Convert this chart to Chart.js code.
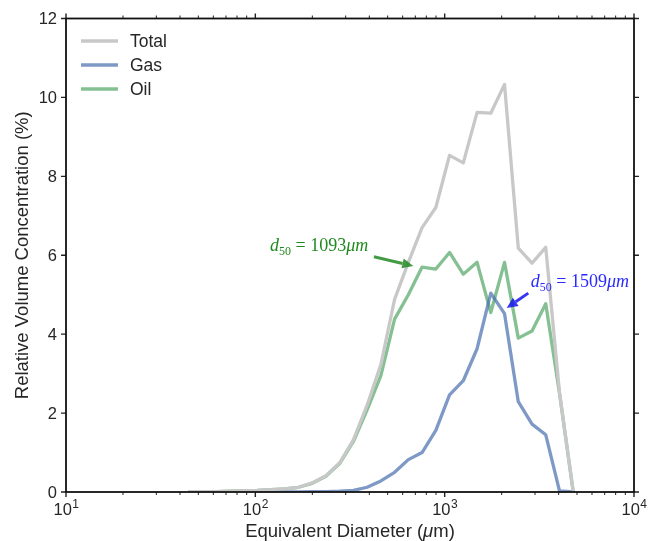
<!DOCTYPE html>
<html>
<head>
<meta charset="utf-8">
<script src="https://cdn.jsdelivr.net/npm/chart.js@4/dist/chart.umd.min.js"></script>
<style>
  html, body { margin: 0; padding: 0; background: #fff; }
</style>
</head>
<body>
<canvas id="chart" width="659" height="541"></canvas>
<script>
// size bins (um) and volume concentrations (%)
const diameters = [44.4, 52.4, 62.0, 73.2, 86.6, 102.3, 120.9, 142.9, 168.9, 199.6,
                   235.9, 278.8, 329.5, 389.4, 460.3, 543.9, 642.8, 759.8, 898.0, 1061,
                   1254, 1483, 1752, 2071, 2448, 2893, 3419, 4041, 4776];
const totalValues = [0.01, 0.01, 0.01, 0.02, 0.03, 0.04, 0.06, 0.08, 0.12, 0.23,
                     0.41, 0.74, 1.32, 2.20, 3.23, 4.88, 5.82, 6.70, 7.21, 8.53,
                     8.34, 9.62, 9.60, 10.33, 6.18, 5.80, 6.20, 2.53, 0];
const gasValues = [0, 0, 0, 0, 0, 0, 0, 0, 0, 0.01,
                   0.01, 0.02, 0.04, 0.12, 0.28, 0.50, 0.82, 1.00, 1.56, 2.46,
                   2.82, 3.63, 5.04, 4.52, 2.29, 1.72, 1.45, 0.03, 0];
const oilValues = [0.01, 0.01, 0.01, 0.02, 0.03, 0.04, 0.06, 0.08, 0.12, 0.22,
                   0.40, 0.72, 1.28, 2.08, 2.95, 4.38, 5.00, 5.70, 5.65, 6.07,
                   5.52, 5.82, 4.55, 5.82, 3.90, 4.08, 4.77, 2.50, 0];
const seriesNames = ['Total', 'Gas', 'Oil'];
const xTickExponents = [1, 2, 3, 4];
const yTickValues = [0, 2, 4, 6, 8, 10, 12];

const colors = ['rgb(200,200,200)', 'rgba(76,114,176,0.72)', 'rgba(85,168,104,0.72)'];
const allValues = [totalValues, gasValues, oilValues];

// d50 annotations: text position, arrow tail, arrow tip (data coords)
const notes = [
  {label: '1093', color: '#1f8a1f', arrow: 'rgba(34,139,34,0.85)',
   text: [119.5, 6.23], tail: [423, 5.96], tip: [683, 5.73]},
  {label: '1509', color: '#2a2aff', arrow: 'rgba(20,20,240,0.85)',
   text: [2848, 5.32], tail: [2765, 5.04], tip: [2126, 4.66]}
];

const font = '"Liberation Sans", Arial, sans-serif';
const mathFont = '"Liberation Serif", "DejaVu Serif", serif';

function drawMath(ctx, x, y, color, num) {
  const parts = [
    {t: 'd', f: 'italic 18px ' + mathFont, dy: 0},
    {t: '50', f: '12px ' + mathFont, dy: 4},
    {t: ' = ', f: '18px ' + mathFont, dy: 0},
    {t: num, f: '18px ' + mathFont, dy: 0},
    {t: 'μm', f: 'italic 18px ' + mathFont, dy: 0}
  ];
  ctx.fillStyle = color;
  ctx.textAlign = 'left';
  ctx.textBaseline = 'alphabetic';
  let cx = x;
  parts.forEach(p => {
    ctx.font = p.f;
    ctx.fillText(p.t, cx, y + p.dy);
    cx += ctx.measureText(p.t).width;
  });
}

function drawArrow(ctx, x0, y0, x1, y1, color) {
  const ang = Math.atan2(y1 - y0, x1 - x0);
  const head = 11, half = 5;
  const bx = x1 - head * Math.cos(ang), by = y1 - head * Math.sin(ang);
  ctx.strokeStyle = color;
  ctx.fillStyle = color;
  ctx.lineWidth = 3;
  ctx.beginPath();
  ctx.moveTo(x0, y0);
  ctx.lineTo(bx, by);
  ctx.stroke();
  ctx.beginPath();
  ctx.moveTo(x1, y1);
  ctx.lineTo(bx + half * Math.sin(ang), by - half * Math.cos(ang));
  ctx.lineTo(bx - half * Math.sin(ang), by + half * Math.cos(ang));
  ctx.closePath();
  ctx.fill();
}

const decorations = {
  id: 'decorations',
  afterDraw(chart) {
    const {ctx, chartArea: a, scales: {x, y}} = chart;
    ctx.save();

    // ticks
    ctx.strokeStyle = '#222';
    for (let e = 1; e <= 4; e++) {
      for (let m = 1; m <= 9; m++) {
        if (e === 4 && m > 1) break;
        const px = x.getPixelForValue(m * Math.pow(10, e));
        const len = m === 1 ? 5 : 3;
        ctx.lineWidth = m === 1 ? 1.4 : 1;
        ctx.beginPath();
        ctx.moveTo(px, a.bottom); ctx.lineTo(px, a.bottom + len);
        ctx.moveTo(px, a.top); ctx.lineTo(px, a.top - len);
        ctx.stroke();
      }
    }
    ctx.lineWidth = 1.4;
    yTickValues.forEach(v => {
      const py = y.getPixelForValue(v);
      ctx.beginPath();
      ctx.moveTo(a.left, py); ctx.lineTo(a.left - 5, py);
      ctx.moveTo(a.right, py); ctx.lineTo(a.right + 5, py);
      ctx.stroke();
    });

    // frame
    ctx.strokeStyle = '#111';
    ctx.lineWidth = 1.8;
    ctx.strokeRect(a.left, a.top, a.right - a.left, a.bottom - a.top);

    // tick labels
    ctx.fillStyle = '#262626';
    ctx.textAlign = 'right';
    ctx.textBaseline = 'middle';
    ctx.font = '16.5px ' + font;
    yTickValues.forEach(v => {
      ctx.fillText(String(v), a.left - 9, y.getPixelForValue(v) + 1);
    });
    ctx.textBaseline = 'alphabetic';
    ctx.textAlign = 'left';
    xTickExponents.forEach(e => {
      const px = x.getPixelForValue(Math.pow(10, e));
      ctx.font = '16.5px ' + font;
      const w1 = ctx.measureText('10').width;
      ctx.font = '12px ' + font;
      const w2 = ctx.measureText(String(e)).width;
      const sx = px - (w1 + w2) / 2;
      ctx.font = '16.5px ' + font;
      ctx.fillText('10', sx, a.bottom + 23);
      ctx.font = '12px ' + font;
      ctx.fillText(String(e), sx + w1 + 0.5, a.bottom + 16);
    });

    // axis titles
    const tf = '18.5px ' + font;
    ctx.font = tf;
    const t1 = 'Equivalent Diameter (', t2 = 'μ', t3 = 'm)';
    const w1 = ctx.measureText(t1).width;
    ctx.font = 'italic ' + tf;
    const w2 = ctx.measureText(t2).width;
    ctx.font = tf;
    const w3 = ctx.measureText(t3).width;
    let sx = (a.left + a.right) / 2 - (w1 + w2 + w3) / 2;
    const by = a.bottom + 45;
    ctx.fillText(t1, sx, by);
    ctx.font = 'italic ' + tf;
    ctx.fillText(t2, sx + w1, by);
    ctx.font = tf;
    ctx.fillText(t3, sx + w1 + w2, by);

    ctx.save();
    ctx.translate(23, (a.top + a.bottom) / 2);
    ctx.rotate(-Math.PI / 2);
    ctx.textAlign = 'center';
    ctx.textBaseline = 'middle';
    ctx.fillText('Relative Volume Concentration (%)', 0, 0);
    ctx.restore();

    // legend
    seriesNames.forEach((name, i) => {
      const ly = 41 + i * 24;
      ctx.strokeStyle = colors[i];
      ctx.lineWidth = 3.5;
      ctx.beginPath();
      ctx.moveTo(81, ly); ctx.lineTo(118, ly);
      ctx.stroke();
      ctx.fillStyle = '#262626';
      ctx.font = '17.5px ' + font;
      ctx.textAlign = 'left';
      ctx.textBaseline = 'middle';
      ctx.fillText(name, 130, ly + 1);
    });

    // d50 annotations
    notes.forEach(n => {
      drawArrow(ctx, x.getPixelForValue(n.tail[0]), y.getPixelForValue(n.tail[1]),
                x.getPixelForValue(n.tip[0]), y.getPixelForValue(n.tip[1]), n.arrow);
      drawMath(ctx, x.getPixelForValue(n.text[0]), y.getPixelForValue(n.text[1]) + 5, n.color, n.label);
    });

    ctx.restore();
  }
};

new Chart(document.getElementById('chart').getContext('2d'), {
  type: 'line',
  data: {
    datasets: allValues.map((vals, i) => ({
      label: seriesNames[i],
      data: diameters.map((d, j) => ({x: d, y: vals[j]})),
      borderColor: colors[i],
      borderWidth: 3.3,
      borderJoinStyle: 'round',
      pointRadius: 0,
      tension: 0,
      fill: false
    }))
  },
  options: {
    responsive: false,
    animation: false,
    devicePixelRatio: 1,
    layout: { padding: { left: 66, right: 25, top: 18.5, bottom: 49 } },
    plugins: { legend: { display: false }, tooltip: { enabled: false } },
    scales: {
      x: { type: 'logarithmic', min: 10, max: 10000, display: false },
      y: { type: 'linear', min: 0, max: 12, display: false }
    }
  },
  plugins: [decorations]
});
</script>
</body>
</html>
